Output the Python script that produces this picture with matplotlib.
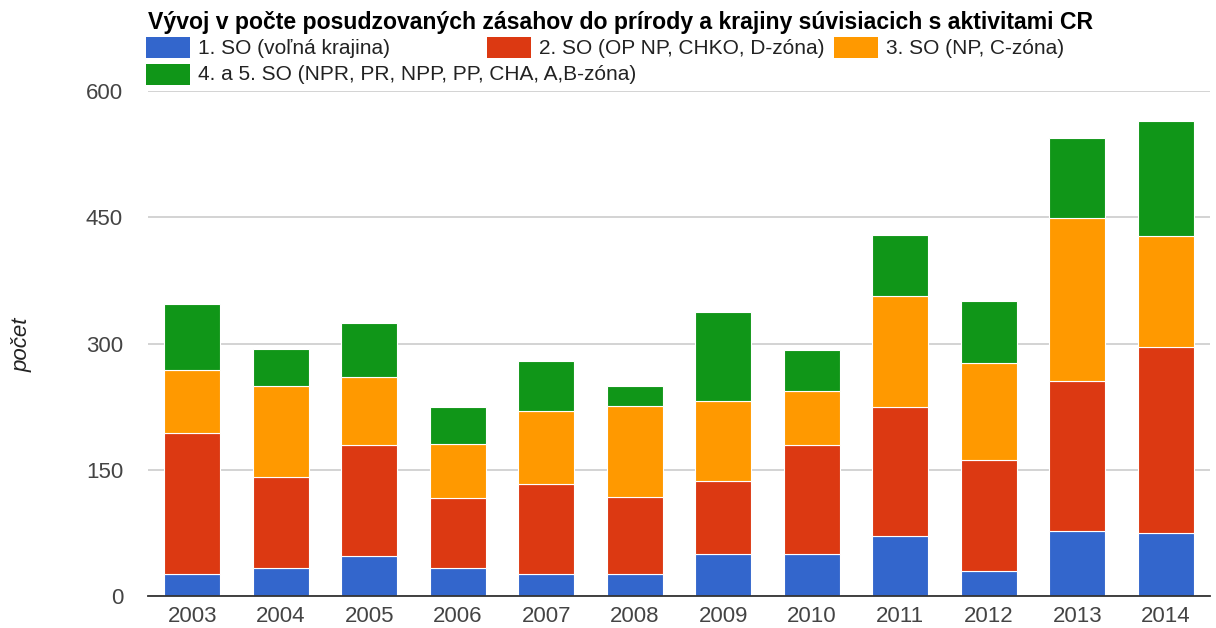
import numpy as np
import matplotlib.pyplot as plt
from matplotlib.patches import Rectangle

plt.rcParams['font.family'] = ['Liberation Sans', 'DejaVu Sans']

years = ['2003', '2004', '2005', '2006', '2007', '2008',
         '2009', '2010', '2011', '2012', '2013', '2014']
so1 = [26, 33, 48, 33, 26, 26, 50, 50, 71, 30, 77, 75]
so2 = [168, 108, 131, 83, 107, 92, 87, 129, 153, 132, 178, 221]
so3 = [75, 108, 81, 65, 87, 108, 95, 64, 133, 115, 194, 132]
so45 = [78, 44, 64, 43, 59, 24, 105, 49, 72, 73, 95, 136]

labels = ['1. SO (voľná krajina)', '2. SO (OP NP, CHKO, D-zóna)',
          '3. SO (NP, C-zóna)', '4. a 5. SO (NPR, PR, NPP, PP, CHA, A,B-zóna)']
colors = ['#3366cc', '#dc3912', '#ff9900', '#109618']
title = 'Vývoj v počte posudzovaných zásahov do prírody a krajiny súvisiacich s aktivitami CR'

fig = plt.figure(figsize=(12.16, 6.28), dpi=100)
ax = fig.add_axes([148 / 1216, 32 / 628, 1062 / 1216, 505 / 628])

x = np.arange(len(years))
bottom = np.zeros(len(years))
for vals, col in zip([so1, so2, so3, so45], colors):
    ax.bar(x, vals, width=0.63, bottom=bottom, color=col,
           edgecolor='white', linewidth=0.8, zorder=3)
    bottom += np.array(vals)

ax.set_xlim(-0.5, len(years) - 0.5)
ax.set_ylim(0, 600)
ax.set_yticks([0, 150, 300, 450, 600])
ax.set_xticks(x)
ax.set_xticklabels(years)
ax.tick_params(axis='both', length=0, labelsize=16, colors='#444444')
ax.tick_params(axis='y', pad=18)
ax.tick_params(axis='x', pad=7)
ax.grid(axis='y', color='#cccccc', linewidth=1.2, zorder=0)
for s in ['top', 'right', 'left']:
    ax.spines[s].set_visible(False)
ax.spines['bottom'].set_color('#333333')
ax.spines['bottom'].set_linewidth(1.3)
ax.spines['bottom'].set_zorder(4)

fig.text(22 / 1216, 1 - 345 / 628, 'počet', rotation=90, style='italic',
         fontsize=16, color='#222222', ha='center', va='center')

fig.text(148 / 1216, 1 - 23 / 628, title, fontsize=16.6, fontweight='bold',
         color='#000000', ha='left', va='center')

# legend, laid out like the original
leg_pos = [(146, 48), (487, 48), (834, 48), (146, 75)]
for (lx, ly), lab, col in zip(leg_pos, labels, colors):
    fig.patches.append(Rectangle((lx / 1216, 1 - (ly + 10) / 628), 44 / 1216, 21 / 628,
                                 transform=fig.transFigure, facecolor=col,
                                 edgecolor='none'))
    fig.text((lx + 52) / 1216, 1 - ly / 628, lab, fontsize=15,
             color='#222222', ha='left', va='center')

fig.savefig('out.png', dpi=100, facecolor='white')
